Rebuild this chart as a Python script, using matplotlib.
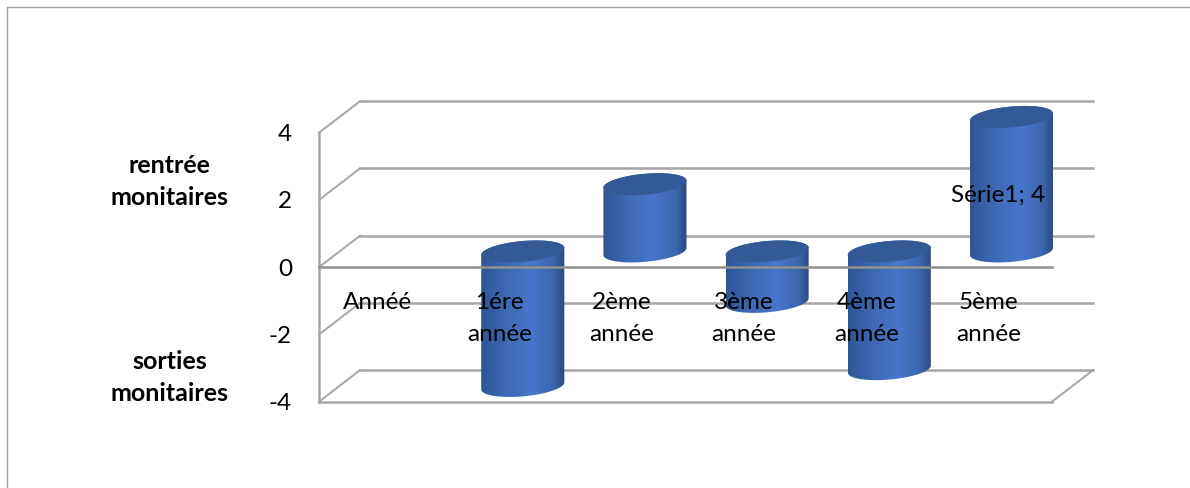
import numpy as np
import matplotlib
matplotlib.use("Agg")
import matplotlib.pyplot as plt
from matplotlib.colors import LinearSegmentedColormap
from matplotlib.lines import Line2D
from matplotlib.patches import Polygon
from matplotlib.transforms import ScaledTranslation

categories = ["Annéé", "1ére\nannée", "2ème\nannée", "3ème\nannée", "4ème\nannée", "5ème\nannée"]
values = [0, -4, 2, -1.5, -3.5, 4]
y_ticks = [-4, -2, 0, 2, 4]
data_label = "Série1; 4"

plt.rcParams['font.family'] = ['Lato', 'DejaVu Sans']
plt.rcParams['axes.unicode_minus'] = False

W, H = 1190, 488
GREY = "#a6a6a6"
DARK_GREY = "#909090"

# depth of the fake 3d box, in data units
depth_x = 41 / 122
depth_y = 31.5 / 33.6
half_w = 0.34
tilt = 0.105
cap_h = 0.31


def px_x(x):
    return x / W


def px_y(y):
    return 1 - y / H


fig = plt.figure(figsize=(W / 100, H / 100), dpi=100)
ax = fig.add_axes([px_x(319), px_y(401.7), (1052 - 319) / W, (401.7 - 132.7) / H])
ax.set_xlim(-0.5, 5.5)
ax.set_ylim(-4, 4)
ax.set_autoscale_on(False)
ax.set_axisbelow(False)
ax.patch.set_visible(False)

# outer chart frame
fig.add_artist(Line2D([px_x(7), px_x(7), 1], [0, px_y(7), px_y(7)], color="#a0a0a0", lw=1))

# back wall lines and left wall diagonals
for v in y_ticks:
    ax.plot([-0.5 + depth_x, 5.5 + depth_x], [v + depth_y, v + depth_y], color=GREY, lw=1.8, zorder=1, clip_on=False)
    ax.plot([-0.5, -0.5 + depth_x], [v, v + depth_y], color=GREY, lw=1.4, zorder=1, clip_on=False)
ax.plot([5.5, 5.5 + depth_x], [-4, -4 + depth_y], color=GREY, lw=1.4, zorder=1, clip_on=False)
ax.plot([-0.5, 5.5], [-4, -4], color=GREY, lw=1.8, zorder=1, clip_on=False)

# cylinders
body_cmap = LinearSegmentedColormap.from_list(
    "body", [(0, "#2d5697"), (0.3, "#3d69b5"), (0.6, "#4777cc"), (0.87, "#3c65ad"), (1, "#2c4a7a")])
gradient = np.linspace(0, 1, 256).reshape(1, -1)
t_top = np.linspace(0, np.pi, 60)
t_bottom = np.linspace(np.pi, 2 * np.pi, 60)
t_all = np.linspace(0, 2 * np.pi, 120)

for i, v in enumerate(values):
    if v == 0:
        continue
    cx = i + depth_x / 2
    base = depth_y / 2
    top = base + max(v, 0)
    bottom = base + min(v, 0)
    xs = np.concatenate([cx + half_w * np.cos(t_top), cx + half_w * np.cos(t_bottom)])
    ys = np.concatenate([top + tilt * np.cos(t_top) + cap_h * np.sin(t_top),
                         bottom + tilt * np.cos(t_bottom) + cap_h * np.sin(t_bottom)])
    body = Polygon(np.column_stack([xs, ys]), closed=True, fc="none", ec="none", transform=ax.transData)
    ax.add_patch(body)
    im = ax.imshow(gradient, cmap=body_cmap, aspect="auto", zorder=2, interpolation="bilinear",
                   extent=[cx - half_w, cx + half_w, bottom - 1, top + 1])
    im.set_clip_box(fig.bbox)
    im.set_clip_path(body)
    cap = Polygon(np.column_stack([cx + half_w * np.cos(t_all),
                                   top + tilt * np.cos(t_all) + cap_h * np.sin(t_all)]),
                  closed=True, fc="#335a97", ec="none", zorder=2.1, clip_on=False)
    ax.add_patch(cap)

ax.set_xlim(-0.5, 5.5)
ax.set_ylim(-4, 4)

# axes
for side in ["top", "right"]:
    ax.spines[side].set_visible(False)
ax.spines["left"].set_color(GREY)
ax.spines["left"].set_linewidth(1.8)
ax.spines["bottom"].set_position(("data", 0))
ax.spines["bottom"].set_color(DARK_GREY)
ax.spines["bottom"].set_linewidth(1.8)
ax.spines["bottom"].set_zorder(3)

ax.set_yticks(y_ticks)
ax.set_xticks(range(len(categories)))
ax.set_xticklabels(categories, linespacing=1.65)
ax.tick_params(axis="y", length=0, pad=19.5, labelsize=17.5, labelcolor="black")
ax.tick_params(axis="x", length=0, pad=17.5, labelsize=17.5, labelcolor="black")

# labels sit a bit left of the category centres
shift = ScaledTranslation(-2.5 / 100, 0, fig.dpi_scale_trans)
for label in ax.get_xticklabels():
    label.set_transform(label.get_transform() + shift)

ax.text(5 + 0.06, 2.14, data_label, fontsize=17.5, ha="center", va="center", zorder=4)

fig.text(px_x(169.5), px_y(181.5), "rentrée\nmonitaires", fontsize=18, fontweight="bold",
         ha="center", va="center", linespacing=1.5)
fig.text(px_x(169.5), px_y(377.5), "sorties\nmonitaires", fontsize=18, fontweight="bold",
         ha="center", va="center", linespacing=1.5)

fig.savefig("out.png", dpi=100)
